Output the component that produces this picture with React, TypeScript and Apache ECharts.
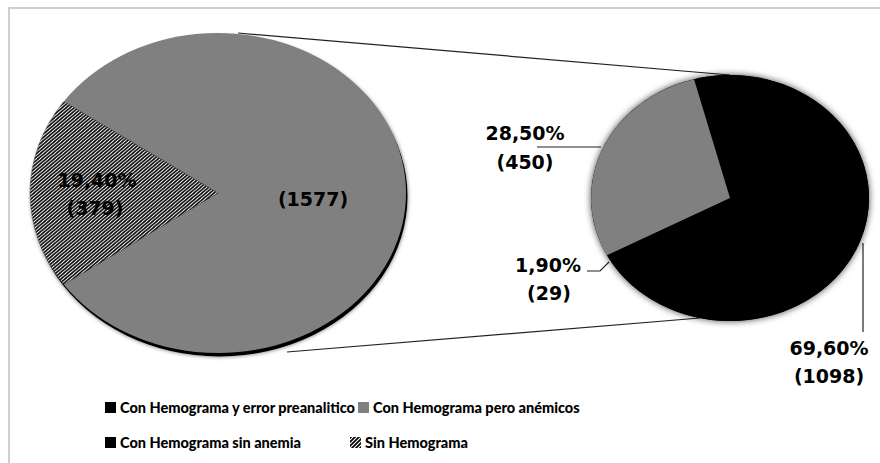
import React, { useEffect, useRef } from "react";
import * as echarts from "echarts";

// ---- data ----
const leftNames = ["Con Hemograma", "Sin Hemograma"];
const leftValues = [1577, 379];
const leftPercents: (number | null)[] = [null, 19.4];

const rightNames = [
  "Con Hemograma sin anemia",
  "Con Hemograma y error preanalitico",
  "Con Hemograma pero anémicos",
];
const rightValues = [1098, 29, 450];
const rightPercents = [69.6, 1.9, 28.5];

const legendNames = [
  "Con Hemograma y error preanalitico",
  "Con Hemograma pero anémicos",
  "Con Hemograma sin anemia",
  "Sin Hemograma",
];

// ---- styles ----
const GRAY = "#808080";
const BLACK = "#000000";
const LABEL_FONT = "'DejaVu Sans', Verdana, sans-serif";
const LEGEND_FONT = "Lato, 'Liberation Sans', sans-serif";

function makeHatch(): HTMLCanvasElement {
  const c = document.createElement("canvas");
  const n = 4;
  c.width = n;
  c.height = n;
  const ctx = c.getContext("2d")!;
  ctx.fillStyle = "#ffffff";
  ctx.fillRect(0, 0, n, n);
  ctx.strokeStyle = "#000000";
  ctx.lineWidth = 1.7;
  ctx.beginPath();
  ctx.moveTo(-1, n + 1);
  ctx.lineTo(n + 1, -1);
  ctx.moveTo(-1, 1);
  ctx.lineTo(1, -1);
  ctx.moveTo(n - 1, n + 1);
  ctx.lineTo(n + 1, n - 1);
  ctx.stroke();
  return c;
}

const fmtPct = (p: number) => p.toFixed(2).replace(".", ",") + "%";
const sum = (a: number[]) => a.reduce((s, v) => s + v, 0);

export default function App() {
  const ref = useRef<HTMLDivElement>(null);
  useEffect(() => {
    if (!ref.current) return;
    const chart = echarts.init(ref.current, undefined, { renderer: "svg" });
    const hatch = { image: makeHatch(), repeat: "repeat" } as any;

    // geometry
    const L = { cx: 218, cy: 193, rx: 188, ry: 160 };
    const R = { cx: 730, cy: 198, rx: 139, ry: 123 };
    const leftTotal = sum(leftValues);
    const rightTotal = sum(rightValues);
    const leftStart = Math.PI + (leftValues[1] / leftTotal) * Math.PI; // hatched centered on the left
    const rightStart = (255 * Math.PI) / 180;
    const leftFills = [GRAY, hatch];
    const rightFills = [BLACK, BLACK, GRAY];

    const pieRender = (
      geo: { cx: number; cy: number; rx: number; ry: number },
      values: number[],
      total: number,
      start: number,
      fills: any[],
      under: any
    ) => (params: any, api: any) => {
      const i = params.dataIndex;
      const v = api.value(0);
      const before = sum(values.slice(0, i));
      const a0 = start + (before / total) * Math.PI * 2;
      const a1 = a0 + (v / total) * Math.PI * 2;
      const children: any[] = [];
      if (i === 0) children.push(under);
      children.push({
        type: "sector",
        shape: { cx: 0, cy: 0, r: geo.rx, r0: 0, startAngle: a0, endAngle: a1, clockwise: true },
        style: { fill: fills[i], stroke: fills[i] === hatch ? "#555" : "none", lineWidth: 0.5 },
      });
      return {
        type: "group",
        x: geo.cx,
        y: geo.cy,
        scaleY: geo.ry / geo.rx,
        children,
      };
    };

    const leftUnder = {
      type: "circle",
      shape: { cx: 1.5, cy: 4, r: L.rx },
      style: { fill: "#000", shadowBlur: 4, shadowColor: "rgba(0,0,0,0.6)" },
    };
    const rightUnder = {
      type: "circle",
      shape: { cx: 0, cy: 0, r: R.rx },
      style: { fill: "#000", shadowBlur: 7, shadowColor: "rgba(0,0,0,0.75)" },
    };

    const lblStyle = (text: string, x: number, y: number, size = 19) => ({
      type: "text",
      x,
      y,
      z: 10,
      style: {
        text,
        fill: "#000",
        font: `bold ${size}px ${LABEL_FONT}`,
        align: "center",
        verticalAlign: "middle",
      },
    });
    const line = (x1: number, y1: number, x2: number, y2: number, w = 1.2) => ({
      type: "line",
      z: 1,
      shape: { x1, y1, x2, y2 },
      style: { stroke: "#222", lineWidth: w },
    });
    const polyline = (pts: number[][]) => ({
      type: "polyline",
      z: 1,
      shape: { points: pts },
      style: { stroke: "#222", lineWidth: 1.2, fill: "none" },
    });

    const legendFills = [BLACK, GRAY, BLACK, hatch];
    const legendPos = [
      [105, 402],
      [358, 402],
      [105, 437],
      [350, 437],
    ];
    const legendGraphics: any[] = [];
    legendNames.forEach((n, i) => {
      const [x, y] = legendPos[i];
      legendGraphics.push({
        type: "rect",
        shape: { x, y, width: 11, height: 11 },
        style: { fill: legendFills[i] },
      });
      legendGraphics.push({
        type: "text",
        x: x + 15,
        y: y + 5.5,
        style: {
          text: n,
          fill: "#000",
          font: `900 14.5px ${LEGEND_FONT}`,
          align: "left",
          verticalAlign: "middle",
        },
      });
    });

    const option: any = {
      animation: false,
      backgroundColor: "#ffffff",
      series: [
        {
          type: "custom",
          name: "Total",
          coordinateSystem: "none",
          z: 3,
          data: leftValues.map((v, i) => ({ name: leftNames[i], value: [v] })),
          renderItem: pieRender(L, leftValues, leftTotal, leftStart, leftFills, leftUnder),
        },
        {
          type: "custom",
          name: "Con Hemograma",
          coordinateSystem: "none",
          z: 3,
          data: rightValues.map((v, i) => ({ name: rightNames[i], value: [v] })),
          renderItem: pieRender(R, rightValues, rightTotal, rightStart, rightFills, rightUnder),
        },
      ],
      graphic: [
        {
          type: "rect",
          z: -10,
          shape: { x: 9, y: 8, width: 900, height: 500 },
          style: { fill: "none", stroke: "#cfcfcf", lineWidth: 2 },
        },
        // connector lines between the pies
        line(238, 33, R.cx, R.cy - R.ry),
        line(287, 352, 700, 318),
        // labels of the left pie
        lblStyle(fmtPct(leftPercents[1] as number), 97, 180),
        lblStyle(`(${leftValues[1]})`, 95, 208),
        lblStyle(`(${leftValues[0]})`, 313, 199),
        // labels of the right pie
        lblStyle(fmtPct(rightPercents[2]), 525, 133),
        lblStyle(`(${rightValues[2]})`, 525, 162),
        line(537, 147, 601, 147),
        lblStyle(fmtPct(rightPercents[1]), 548, 265),
        lblStyle(`(${rightValues[1]})`, 549, 293),
        polyline([
          [587, 271],
          [600, 271],
          [609, 262],
        ]),
        lblStyle(fmtPct(rightPercents[0]), 829, 348),
        lblStyle(`(${rightValues[0]})`, 829, 376),
        line(863, 243, 863, 332),
        ...legendGraphics,
      ],
    };
    chart.setOption(option);
    return () => chart.dispose();
  }, []);
  return (
    <div
      ref={ref}
      style={{ position: "absolute", left: 0, top: 0, width: 880, height: 463 }}
    />
  );
}
